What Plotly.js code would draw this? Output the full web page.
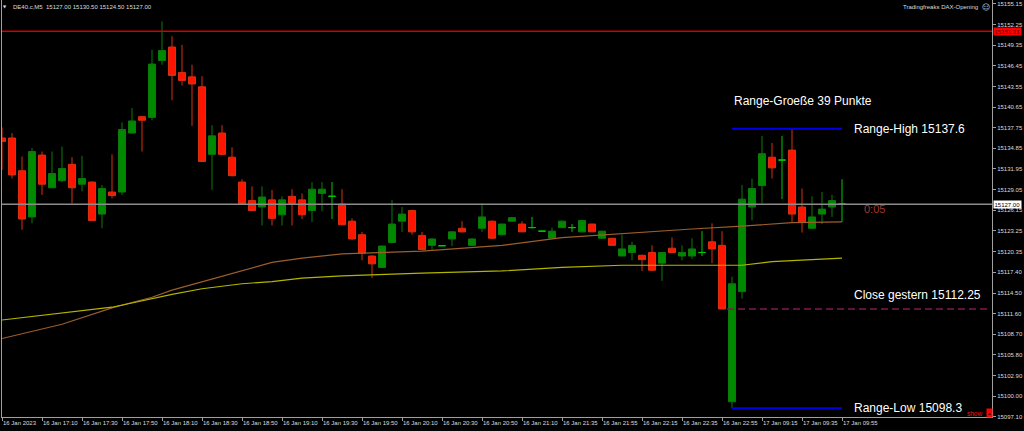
<!DOCTYPE html>
<html>
<head>
<meta charset="utf-8">
<script src="https://cdn.plot.ly/plotly-3.0.1.min.js"></script>
<style>
html,body{margin:0;padding:0;background:#000;}
#chart{width:1024px;height:431px;}
</style>
</head>
<body>
<div id="chart"></div>
<script>
// ---- DATA (DE40.c, M5) ----
const opens = [15136.3,15136.3,15131.7,15125.2,15133.9,15129.3,15130.3,15132.6,15129.8,15130.1,
 15125.6,15128.7,15128.7,15137.0,15139.3,15139.2,15147.2,15149.1,15145.5,15144.9,
 15143.5,15134.0,15137.0,15133.6,15130.1,15127.5,15126.6,15127.6,15125.5,15128.1,
 15127.6,15126.1,15128.5,15128.1,15127.0,15124.6,15122.7,15119.7,15118.1,15121.6,
 15124.6,15126.1,15122.6,15121.2,15121.15,15122.1,15123.6,15121.2,15123.6,15124.6,
 15122.7,15124.6,15124.2,15123.7,15123.2,15122.2,15123.7,15123.7,15123.1,15124.2,
 15122.2,15122.2,15119.7,15120.2,15119.8,15120.2,15118.7,15120.8,15119.7,15119.7,
 15120.2,15121.7,15121.2,15099.2,15114.7,15126.6,15129.6,15133.6,15133.2,15134.6,
 15126.6,15123.6,15125.6,15126.6,15127.0];
const highs = [15137.8,15137.0,15133.7,15134.9,15134.4,15134.4,15135.1,15133.6,15133.8,15130.2,
 15129.7,15134.0,15138.5,15140.5,15139.4,15148.7,15152.7,15150.6,15149.4,15146.6,
 15145.0,15138.1,15138.1,15135.0,15130.5,15129.5,15129.5,15129.0,15128.1,15129.1,
 15128.5,15130.1,15130.1,15130.1,15129.1,15125.0,15123.1,15119.8,15121.2,15127.6,
 15126.6,15126.2,15123.1,15122.2,15121.2,15123.2,15124.6,15122.2,15127.1,15124.7,
 15124.2,15125.2,15124.6,15125.2,15123.2,15123.7,15124.7,15124.2,15124.8,15124.2,
 15123.2,15122.2,15122.7,15121.7,15119.9,15121.2,15120.2,15122.3,15121.2,15122.2,
 15123.2,15124.3,15123.2,15116.8,15129.7,15130.6,15136.6,15135.6,15136.6,15137.6,
 15129.2,15128.1,15128.7,15128.3,15130.5];
const lows = [15131.8,15130.6,15123.4,15124.3,15128.3,15129.3,15130.1,15127.1,15128.8,15124.6,
 15123.6,15127.8,15128.3,15136.9,15134.4,15138.8,15146.6,15141.6,15143.7,15138.0,
 15132.9,15129.0,15133.9,15130.9,15127.0,15126.0,15124.0,15124.0,15124.0,15124.0,
 15124.9,15124.5,15126.0,15124.9,15124.1,15122.0,15119.1,15116.6,15118.0,15121.5,
 15123.1,15122.7,15120.5,15120.6,15121.1,15121.1,15123.0,15121.1,15123.1,15122.1,
 15122.6,15124.5,15123.1,15123.6,15123.2,15122.1,15123.6,15123.1,15123.0,15123.1,
 15122.1,15121.2,15119.7,15119.1,15117.6,15117.6,15116.2,15120.2,15119.1,15119.3,
 15119.7,15118.7,15112.25,15098.3,15113.7,15124.7,15127.1,15130.6,15127.7,15124.5,
 15123.0,15123.5,15124.2,15125.2,15124.5];
const closes = [15135.8,15131.1,15124.9,15134.4,15129.8,15131.3,15132.0,15129.3,15130.6,15124.7,
 15129.2,15128.2,15137.5,15138.7,15138.8,15146.7,15148.6,15145.1,15144.4,15143.9,
 15133.0,15136.6,15134.0,15131.0,15127.1,15126.1,15128.0,15125.0,15127.6,15127.1,
 15125.5,15129.1,15129.1,15128.1,15124.1,15122.1,15120.1,15118.6,15121.1,15124.2,
 15125.6,15123.1,15120.6,15122.1,15121.15,15123.1,15123.1,15122.1,15125.2,15122.2,
 15124.2,15125.1,15123.1,15123.7,15123.2,15123.2,15124.6,15123.7,15124.7,15123.1,
 15123.2,15121.2,15120.7,15121.2,15119.2,15117.7,15120.2,15120.2,15120.2,15120.7,
 15120.2,15120.7,15112.25,15115.8,15127.7,15129.2,15134.1,15132.1,15133.2,15125.6,
 15124.5,15125.2,15126.3,15127.5,15127.0];

// moving averages read at selected bars
const maFastBars = [0,6,11,15,17,22,27,30,34,42,50,56,60,69,74,79,84];
const maFastVals = [15108.1,15110.1,15112.4,15113.9,15114.9,15116.9,15118.8,15119.4,15120.0,15120.4,15121.2,15122.3,15122.7,15123.5,15123.9,15124.4,15124.5];
const maSlowBars = [0,11,17,20,24,27,30,34,42,50,56,62,69,74,77,84];
const maSlowVals = [15110.7,15112.5,15114.3,15115.1,15115.8,15116.1,15116.6,15116.9,15117.3,15117.6,15118.1,15118.4,15118.4,15118.4,15118.9,15119.4];

// x tick labels (every 4th bar)
const xTickBars = [0,4,8,12,16,20,24,28,32,36,40,44,48,52,56,60,64,68,72,76,80,84];
const xTickLabels = ['16 Jan 2023','16 Jan 17:10','16 Jan 17:30','16 Jan 17:50','16 Jan 18:10','16 Jan 18:30',
 '16 Jan 18:50','16 Jan 19:10','16 Jan 19:30','16 Jan 19:50','16 Jan 20:10','16 Jan 20:30','16 Jan 20:50',
 '16 Jan 21:10','16 Jan 21:35','16 Jan 21:55','16 Jan 22:15','16 Jan 22:35','16 Jan 22:55',
 '17 Jan 09:15','17 Jan 09:35','17 Jan 09:55'];
// y tick labels
const yTickLabels = ['15155.15','15152.25','15149.35','15146.45','15143.55','15140.65','15137.75','15134.85',
 '15131.95','15129.05','15126.15','15123.25','15120.35','15117.40','15114.50','15111.60','15108.70',
 '15105.80','15102.90','15100.00','15097.10'];

// levels
const symbol = 'DE40.c,M5';
const currentPrice = 15127.00;
const redLevel = 15151.31;
const rangeHigh = 15137.6;
const rangeLow = 15098.3;
const closeYesterday = 15112.25;
const rangeStartBar = 73;
const rangeEndBar = 84;
const closeLineStartBar = 72.5;
const timerText = '0:05';

// ---- BUILD ----
const bars = opens.map((_, i) => i);
const isDoji = bars.map(i => opens[i] === closes[i]);
const pick = (arr, flag) => bars.filter(i => isDoji[i] === flag).map(i => arr[i]);

const mainCandles = {
  type: 'candlestick',
  x: pick(bars, false), open: pick(opens, false), high: pick(highs, false),
  low: pick(lows, false), close: pick(closes, false),
  increasing: {line: {color: '#0b7a0b', width: 1}, fillcolor: '#008a00'},
  decreasing: {line: {color: '#d83010', width: 1}, fillcolor: '#ff1400'},
  whiskerwidth: 0, hoverinfo: 'skip'
};
const dojiCandles = {
  type: 'candlestick',
  x: pick(bars, true), open: pick(opens, true), high: pick(highs, true),
  low: pick(lows, true), close: pick(closes, true),
  increasing: {line: {color: '#00c800', width: 1}, fillcolor: '#00c800'},
  decreasing: {line: {color: '#00c800', width: 1}, fillcolor: '#00c800'},
  whiskerwidth: 0, hoverinfo: 'skip'
};
const maFast = {type: 'scatter', mode: 'lines', x: maFastBars, y: maFastVals,
  line: {color: '#9c5e2a', width: 1.2}, hoverinfo: 'skip'};
const maSlow = {type: 'scatter', mode: 'lines', x: maSlowBars, y: maSlowVals,
  line: {color: '#b4b400', width: 1.2}, hoverinfo: 'skip'};

// pixel helpers for chrome text (plot area: x 2..992, y 0..417)
const PX = x => (x - 2) / 990;
const PY = y => 1 - y / 417;
const fam = 'Liberation Sans, Arial, sans-serif';
const small = {family: fam, size: 6, color: '#dcdcdc'};
const big = {family: fam, size: 12, color: '#ffffff'};

const fmt = v => v.toFixed(2);

const annotations = [
  {xref:'paper', yref:'paper', x:PX(5), y:PY(6.5), text:'▼', showarrow:false, xanchor:'center', yanchor:'middle', font:{family:'DejaVu Sans', size:4, color:'#e0e0e0'}},
  {xref:'paper', yref:'paper', x:PX(11), y:PY(7), text: symbol + '  ' + [opens[84], highs[84], lows[84], closes[84]].map(fmt).join(' '),
   showarrow:false, xanchor:'left', yanchor:'middle', font: small},
  {xref:'paper', yref:'paper', x:PX(980), y:PY(7), text:'Tradingfreaks DAX-Opening', showarrow:false, xanchor:'right', yanchor:'middle', font: small},
  {xref:'paper', yref:'paper', x:PX(985.5), y:PY(7), text:'☺', showarrow:false, xanchor:'center', yanchor:'middle', font:{family:'DejaVu Sans', size:8, color:'#d0d0d0'}},
  {xref:'x', yref:'y', x:73, y:rangeHigh, yshift:28, text:'Range-Groeße ' + Math.round(rangeHigh - rangeLow) + ' Punkte', showarrow:false, xanchor:'left', yanchor:'middle', xshift:0, font: big},
  {xref:'x', yref:'y', x:85, y:rangeHigh, text:'Range-High ' + rangeHigh, showarrow:false, xanchor:'left', yanchor:'middle', font: big},
  {xref:'x', yref:'y', x:85, y:closeYesterday, yshift:14, text:'Close gestern ' + closeYesterday, showarrow:false, xanchor:'left', yanchor:'middle', font: big},
  {xref:'x', yref:'y', x:85, y:rangeLow, text:'Range-Low ' + rangeLow, showarrow:false, xanchor:'left', yanchor:'middle', font: big},
  {xref:'x', yref:'y', x:86, y:currentPrice, yshift:-5, text:timerText, showarrow:false, xanchor:'left', yanchor:'middle', font:{family:fam, size:11, color:'#a8342c'}},
  {xref:'paper', yref:'paper', x:PX(983.5), y:PY(413.5), text:'show', showarrow:false, xanchor:'right', yanchor:'middle', font:{family:fam, size:6.5, color:'#ff1010'}},
  {xref:'paper', yref:'paper', x:PX(989), y:PY(413), text:'▴', showarrow:false, xanchor:'center', yanchor:'middle', bgcolor:'#ff0000', borderpad:1, font:{family:'DejaVu Sans', size:5, color:'#000'}},
  {xref:'paper', yref:'y', x:1, y:currentPrice, text: fmt(currentPrice), showarrow:false, xanchor:'left', yanchor:'middle', xshift:1, bgcolor:'#ffffff', borderpad:0.5, font:{family:fam, size:6, color:'#000'}},
  {xref:'paper', yref:'y', x:1, y:redLevel, text: fmt(redLevel), showarrow:false, xanchor:'left', yanchor:'middle', xshift:1, bgcolor:'#ff0000', borderpad:0.5, font:{family:fam, size:6, color:'#5a0000'}}
];

const shapes = [
  {type:'line', xref:'paper', yref:'y', x0:0, x1:1, y0:redLevel, y1:redLevel, line:{color:'#d00000', width:1.5}},
  {type:'line', xref:'paper', yref:'y', x0:0, x1:1, y0:currentPrice, y1:currentPrice, line:{color:'#8c8c8c', width:1.5}},
  {type:'line', xref:'x', yref:'y', x0:rangeStartBar, x1:rangeEndBar, y0:rangeHigh, y1:rangeHigh, line:{color:'#0000e6', width:2}},
  {type:'line', xref:'x', yref:'y', x0:rangeStartBar, x1:rangeEndBar, y0:rangeLow, y1:rangeLow, line:{color:'#0000e6', width:2}},
  {type:'line', xref:'x', yref:'y', x0:closeLineStartBar, x1:98.6, y0:closeYesterday, y1:closeYesterday, line:{color:'#7c1a4e', width:1.5, dash:'7px,4px'}}
];

const layout = {
  width: 1024, height: 431,
  margin: {l: 2, r: 32, t: 0, b: 14, pad: 0},
  paper_bgcolor: '#000', plot_bgcolor: '#000',
  showlegend: false,
  font: {family: fam, color: '#dcdcdc'},
  boxgap: 0.3, boxgroupgap: 0,
  xaxis: {
    range: [0, 99], tickvals: xTickBars, ticktext: xTickLabels,
    ticks: 'outside', ticklen: 3, tickcolor: '#a0a0a0', tickwidth: 1,
    ticklabelposition: 'outside right', tickangle: 0, automargin: false,
    ticklabelstandoff: 0,
    tickfont: {family: fam, size: 6, color: '#dcdcdc'},
    showgrid: false, zeroline: false, showline: true, linecolor: '#a0a0a0', linewidth: 1,
    rangeslider: {visible: false}, fixedrange: true
  },
  yaxis: {
    side: 'right', range: [15097.06, 15155.71],
    tickvals: yTickLabels.map(Number), ticktext: yTickLabels,
    ticks: 'outside', ticklen: 3, tickcolor: '#a0a0a0', tickwidth: 1,
    tickfont: {family: fam, size: 6, color: '#dcdcdc'},
    showgrid: false, zeroline: false, showline: true, mirror: true, linecolor: '#a0a0a0', linewidth: 1,
    fixedrange: true, automargin: false
  },
  shapes: shapes,
  annotations: annotations
};

Plotly.newPlot('chart', [maFast, maSlow, mainCandles, dojiCandles], layout, {staticPlot: true, displayModeBar: false});
</script>
</body>
</html>
